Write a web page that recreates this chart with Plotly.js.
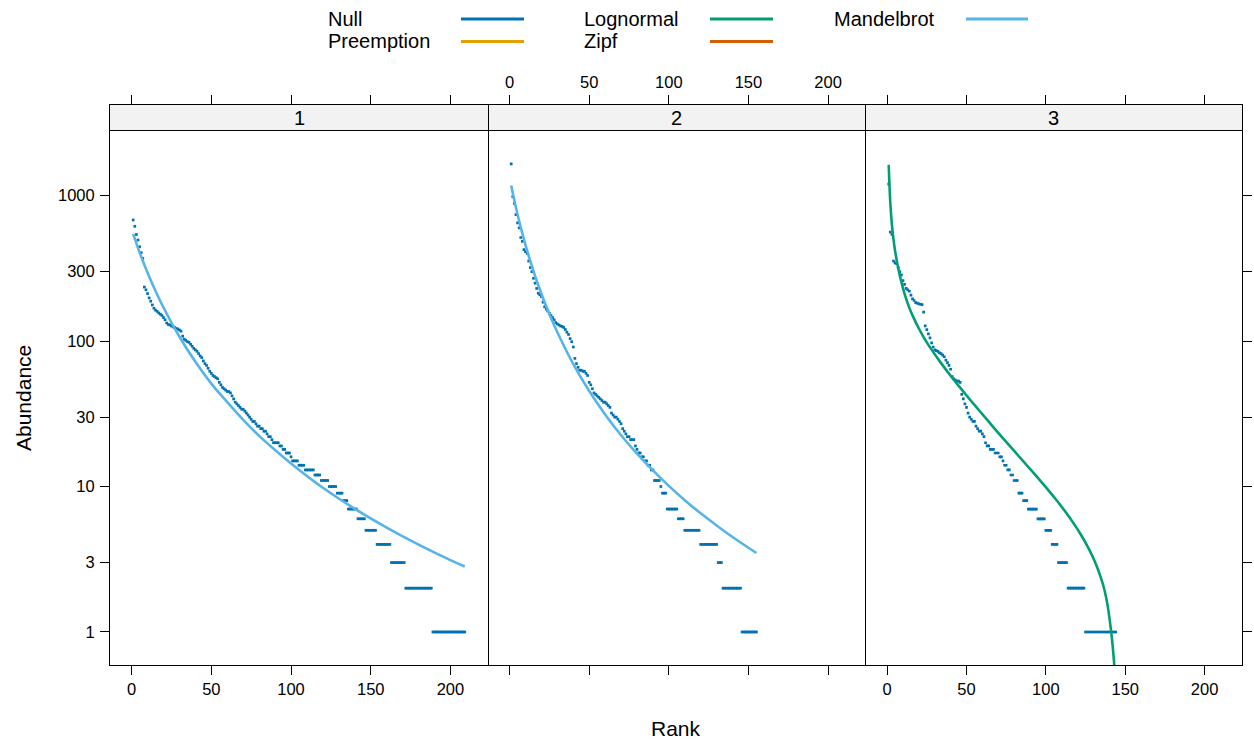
<!DOCTYPE html>
<html>
<head>
<meta charset="utf-8">
<script src="https://cdn.plot.ly/plotly-3.0.1.min.js"></script>
<style>html,body{margin:0;padding:0;background:#fff;}#plot{width:1254px;height:740px;}</style>
</head>
<body>
<div id="plot"></div>
<script>
// ---- data ----
const panelNames = ["1", "2", "3"];
const xTickVals = [0, 50, 100, 150, 200];
const yTickVals = [1, 3, 10, 30, 100, 300, 1000];
const yTickText = ["1", "3", "10", "30", "100", "300", "1000"];

// observed abundances, sorted by rank (rank = position in list)
const site1 = [
680,615,540,495,445,405,370,235,225,212,
198,188,177,168,163,160,156,153,150,145,
140,133,130,129,127,125,124,122,121,119,
117,108,103,101,99,98,95,92,89,87,
85,82,79,77,73,70,68,65,62,60,
58,57,56,55,52,50,48,47,46,45,
45,44,42,40,38,37,36,35,34,34,
33,32,31,30,29,28,28,27,26,26,
25,25,24,24,23,22,22,21,20,20,
20,20,19,19,18,18,17,17,17,16,
15,15,15,15,14,14,14,14,13,13,
13,13,13,13,12,12,12,12,11,11,
11,11,11,10,10,10,10,10,9,9,
9,9,8,8,8,7,7,7,7,7,
7,6,6,6,6,6,5,5,5,5,
5,5,5,4,4,4,4,4,4,4,
4,4,3,3,3,3,3,3,3,3,
3,2,2,2,2,2,2,2,2,2,
2,2,2,2,2,2,2,2,1,1,
1,1,1,1,1,1,1,1,1,1,
1,1,1,1,1,1,1,1,1
];
const site2 = [
1650,985,885,740,650,600,515,485,425,412,
400,355,320,300,270,250,230,213,208,202,
185,172,166,161,155,150,145,140,134,131,
129,127,126,124,120,115,111,104,99,91,
76,70,66,63,63,62,62,60,58,52,
50,47,44,43,42,41,40,39,38,38,
37,36,35,32,31,30,30,29,28,27,
25,24,23,22,22,21,21,21,19,18,
17,17,16,16,15,15,14,14,13,13,
11,11,11,11,10,9,9,9,7,7,
7,7,7,7,7,6,6,6,6,5,
5,5,5,5,5,5,5,5,5,4,
4,4,4,4,4,4,4,4,4,4,
3,3,3,2,2,2,2,2,2,2,
2,2,2,2,2,1,1,1,1,1,
1,1,1,1,1
];
const site3 = [
1200,560,540,355,345,340,320,300,285,260,
245,230,225,220,207,195,190,184,182,180,
179,178,158,127,120,112,105,97,91,87,
86,85,83,82,80,78,74,71,68,64,
57,55,54,53,53,52,43,40,37,35,
32,30,29,28,28,26,25,24,24,23,
22,20,19,19,18,18,18,17,17,17,
16,16,15,14,14,13,13,12,12,11,
11,11,9,9,9,8,8,8,7,7,
7,7,7,7,6,6,6,6,6,5,
5,5,5,4,4,4,4,3,3,3,
3,3,3,2,2,2,2,2,2,2,
2,2,2,2,1,1,1,1,1,1,
1,1,1,1,1,1,1,1,1,1,
1,1,1,1
];

// fitted model curves (at selected ranks)
const fit1Rank = [1,2,3,5,10,15,20,30,40,50,60,70,80,90,100,120,140,160,180,200,209];
const fit1Val  = [545,506,469,407,295,221,170,107,72,51,38,28.7,22.3,17.8,14.4,9.8,7.03,5.22,3.99,3.12,2.82];
const fit2Rank = [1,3,5,8,12,18,25,30,40,50,60,70,80,90,100,110,120,130,140,155];
const fit2Val  = [1172,925,742,550,385,242,153,115,69.5,45.4,31.3,22.5,16.8,12.9,10.1,8.05,6.54,5.4,4.5,3.49];
const fit3Rank = [1,2,3,4,5,7,9,11,14,17,20,24,28,34,40,46,52,58,64,70,76,82,88,94,100,106,112,118,122,126,129,132,135,137,139,141,142,143,144];
const fit3Val  = [1626,893,632,502,418,317,254,211,169,142,122,102,87.3,70.5,57.7,47.8,39.8,33.3,27.9,23.4,19.7,16.6,14.0,11.8,9.89,8.24,6.78,5.47,4.68,3.93,3.38,2.84,2.30,1.93,1.50,1.035,0.82,0.61,0.37];

const modelNames = ["Null", "Preemption", "Lognormal", "Zipf", "Mandelbrot"];
const modelColors = {Null:"#0072B2", Preemption:"#E69F00", Lognormal:"#009E73", Zipf:"#D55E00", Mandelbrot:"#56B4E9"};
const bestModel = ["Mandelbrot", "Mandelbrot", "Lognormal"];

// ---- geometry ----
const W = 1254, H = 740;
const M = {l:110, r:12, t:105, b:75};
const PW = W - M.l - M.r, PH = H - M.t - M.b;
const px = x => (x - M.l) / PW;
const py = y => (H - M.b - y) / PH;
const panelTop = py(131);
const doms = [[0, px(488)], [px(488), px(865.6)], [px(865.6), 1]];
const xRange = [-13.56, 223.56];
const yRange = [-0.227, 3.444];

const FONT = "Liberation Sans, Arial, Helvetica, sans-serif";
const tickFont = {family: FONT, size: 16.5, color: "#000"};

function ranksOf(arr){ const r=[]; for(let i=0;i<arr.length;i++) r.push(i+1); return r; }

const sites = [site1, site2, site3];
const fits = [[fit1Rank, fit1Val], [fit2Rank, fit2Val], [fit3Rank, fit3Val]];
const traces = [];
sites.forEach((s, i) => {
  const xa = i === 0 ? "x" : "x" + (i+1);
  const ya = i === 0 ? "y" : "y" + (i+1);
  traces.push({type:"scatter", mode:"markers", x: ranksOf(s), y: s, xaxis: xa, yaxis: ya,
    marker:{symbol:"square", size:2.7, color: modelColors.Null, line:{width:0}},
    showlegend:false, hoverinfo:"x+y"});
});
fits.forEach((f, i) => {
  const xa = i === 0 ? "x" : "x" + (i+1);
  const ya = i === 0 ? "y" : "y" + (i+1);
  traces.push({type:"scatter", mode:"lines", x: f[0], y: f[1], xaxis: xa, yaxis: ya,
    line:{color: modelColors[bestModel[i]], width:2.6, shape:"spline", smoothing:1},
    name: bestModel[i], showlegend:false, hoverinfo:"x+y"});
});
// strip subplots (empty)
for (let i = 0; i < 3; i++) {
  traces.push({type:"scatter", mode:"markers", x:[], y:[], xaxis:"x"+(i+4), yaxis:"y"+(i+4), showlegend:false, hoverinfo:"skip"});
}

const layout = {
  width: W, height: H,
  margin: M,
  paper_bgcolor: "#fff", plot_bgcolor: "rgba(0,0,0,0)",
  showlegend: false,
  font: {family: FONT, color: "#000"},
  annotations: [], shapes: []
};

const baseX = {range: xRange, showgrid:false, zeroline:false, showline:true, linecolor:"#000", linewidth:1, mirror:true,
  ticks:"outside", ticklen:9, tickwidth:1, tickcolor:"#000", tickmode:"array", tickvals: xTickVals,
  tickfont: tickFont, fixedrange:true};
for (let i = 0; i < 3; i++) {
  const k = i === 0 ? "" : String(i+1);
  layout["xaxis"+k] = Object.assign({}, baseX, {domain: doms[i], anchor: "y"+k, showticklabels: i !== 1});
  const yax = {type:"log", range: yRange, domain:[0, panelTop], anchor: "x"+k, showgrid:false, zeroline:false,
    showline: i !== 1, linecolor:"#000", linewidth:1, mirror:true, tickmode:"array", tickvals: yTickVals, ticktext: yTickText,
    tickfont: tickFont, fixedrange:true};
  if (i === 0) { Object.assign(yax, {ticks:"outside", ticklen:9, tickwidth:1, tickcolor:"#000", showticklabels:true, ticklabelstandoff:2}); }
  else if (i === 2) { Object.assign(yax, {side:"right", ticks:"outside", ticklen:9, tickwidth:1, tickcolor:"#000", showticklabels:false}); }
  else { Object.assign(yax, {ticks:"", showticklabels:false}); }
  layout["yaxis"+k] = yax;
  // strip axes
  layout["xaxis"+(i+4)] = Object.assign({}, baseX, {domain: doms[i], anchor: "y"+(i+4), side:"top", mirror:false, showticklabels: i === 1});
  layout["yaxis"+(i+4)] = {range:[0,1], domain:[panelTop, 1], anchor:"x"+(i+4), showgrid:false, zeroline:false,
    showline: i !== 1, linecolor:"#000", linewidth:1, mirror:true, ticks:"", showticklabels:false, fixedrange:true};
  // strip background
  layout.shapes.push({type:"rect", xref:"paper", yref:"paper", x0: doms[i][0], x1: doms[i][1], y0: panelTop, y1: 1,
    fillcolor:"#F2F2F2", line:{width:0}, layer:"below"});
  layout.annotations.push({text: panelNames[i], xref:"paper", yref:"paper", x:(doms[i][0]+doms[i][1])/2, y: py(118),
    xanchor:"center", yanchor:"middle", showarrow:false, font:{family:FONT, size:20, color:"#000"}});
}

// axis titles
layout.annotations.push({text:"Abundance", xref:"paper", yref:"paper", x: px(24), y: py(398), textangle:-90,
  xanchor:"center", yanchor:"middle", showarrow:false, font:{family:FONT, size:21, color:"#000"}});
layout.annotations.push({text:"Rank", xref:"paper", yref:"paper", x: px(676), y: py(728),
  xanchor:"center", yanchor:"middle", showarrow:false, font:{family:FONT, size:21, color:"#000"}});

// key (text then line, lattice style), 3 columns x 2 rows, filled column-wise
const keyTextX = [327, 583, 833];
const keyLineX = [[461, 524], [710, 773], [966, 1028]];
const keyRowY = [19, 41.5];
modelNames.forEach((m, j) => {
  const col = Math.floor(j / 2), row = j % 2;
  layout.annotations.push({text: m, xref:"paper", yref:"paper", x: px(keyTextX[col]), y: py(keyRowY[row] - 0.5),
    xanchor:"left", yanchor:"middle", showarrow:false, borderpad:0, font:{family:FONT, size:20, color:"#000"}});
  layout.shapes.push({type:"line", xref:"paper", yref:"paper", x0: px(keyLineX[col][0]), x1: px(keyLineX[col][1]),
    y0: py(keyRowY[row]), y1: py(keyRowY[row]), line:{color: modelColors[m], width:3}});
});

Plotly.newPlot("plot", traces, layout, {staticPlot:true, displayModeBar:false});
</script>
</body>
</html>
